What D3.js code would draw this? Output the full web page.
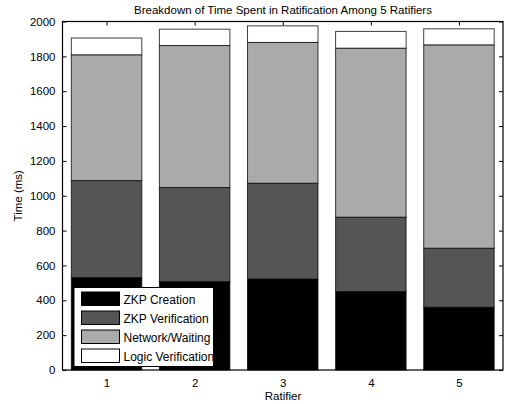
<!DOCTYPE html>
<meta charset="utf-8">
<style>
body { margin: 0; background: #fff; }
text { font-family: "Liberation Sans", Arial, sans-serif; fill: #000; }
</style>
<svg width="505" height="404"></svg>
<script src="https://cdn.jsdelivr.net/npm/d3@7"></script>
<script>

var ratifiers = [1, 2, 3, 4, 5];
var series = ["ZKP Creation", "ZKP Verification", "Network/Waiting", "Logic Verification"];
var zkpCreation = [530, 507, 522, 450, 360];
var zkpVerification = [557, 540, 550, 427, 339];
var networkWaiting = [722, 815, 808, 970, 1167];
var logicVerification = [96, 94, 95, 96, 92];
var yTicks = [0, 200, 400, 600, 800, 1000, 1200, 1400, 1600, 1800, 2000];
var colors = ["#000000", "#555555", "#aaaaaa", "#ffffff"];

var svg = d3.select("svg"),
    margin = {left: 62.5, right: 2, top: 21.5, bottom: 34},
    width = 505 - margin.left - margin.right,
    height = 404 - margin.top - margin.bottom,
    g = svg.append("g").attr("transform", "translate(" + margin.left + "," + margin.top + ")");

var rows = ratifiers.map(function(r, i) {
  return {r: r, "ZKP Creation": zkpCreation[i], "ZKP Verification": zkpVerification[i],
          "Network/Waiting": networkWaiting[i], "Logic Verification": logicVerification[i]};
});
var stacked = d3.stack().keys(series)(rows);

var x = d3.scaleLinear().domain([0.5, 5.5]).range([0, width]);
var y = d3.scaleLinear().domain([0, 2000]).range([height, 0]);
var bw = x(1.4) - x(0.6);

stacked.forEach(function(layer, li) {
  g.selectAll(".s" + li)
    .data(layer)
    .enter().append("rect")
      .attr("x", function(d) { return x(d.data.r) - bw / 2; })
      .attr("y", function(d) { return y(d[1]); })
      .attr("width", bw)
      .attr("height", function(d) { return y(d[0]) - y(d[1]); })
      .attr("fill", colors[li])
      .attr("stroke", "#000")
      .attr("stroke-opacity", 0.75)
      .attr("stroke-width", 1);
});

// axes, ticks inside on all four sides
function style(a) {
  a.select(".domain").remove();
  a.selectAll("line").attr("stroke", "#000");
  a.selectAll("text").style("font-size", "11.5px").style("font-family", "Liberation Sans, Arial, sans-serif");
}
var fmt = d3.format("d");
g.append("g").attr("transform", "translate(0," + height + ")")
  .call(d3.axisBottom(x).tickValues(ratifiers).tickFormat(fmt).tickSizeInner(-4).tickSizeOuter(0).tickPadding(9))
  .call(style);
g.append("g")
  .call(d3.axisTop(x).tickValues(ratifiers).tickSizeInner(-4).tickSizeOuter(0).tickFormat(""))
  .call(style);
g.append("g")
  .call(d3.axisLeft(y).tickValues(yTicks).tickFormat(fmt).tickSizeInner(-4).tickSizeOuter(0).tickPadding(7))
  .call(style);
g.append("g").attr("transform", "translate(" + width + ",0)")
  .call(d3.axisRight(y).tickValues(yTicks).tickSizeInner(-4).tickSizeOuter(0).tickFormat(""))
  .call(style);

g.append("rect")
  .attr("width", width).attr("height", height)
  .attr("fill", "none").attr("stroke", "#000").attr("stroke-width", 1.2);

// legend
var lg = g.append("g").attr("transform", "translate(" + (74 - margin.left) + "," + (287.5 - margin.top) + ")");
lg.append("rect").attr("width", 139.5).attr("height", 79)
  .attr("fill", "#fff").attr("stroke", "#000").attr("stroke-width", 1);
series.forEach(function(s, i) {
  lg.append("rect")
    .attr("x", 7.5).attr("y", 4.5 + i * 19)
    .attr("width", 38).attr("height", 13.5)
    .attr("fill", colors[i]).attr("stroke", "#000").attr("stroke-width", 1);
  lg.append("text")
    .attr("x", 49.5).attr("y", 16 + i * 19)
    .style("font-size", "12px")
    .text(s);
});

// title and labels
svg.append("text").attr("x", 283).attr("y", 14).attr("text-anchor", "middle")
  .style("font-size", "11.5px").text("Breakdown of Time Spent in Ratification Among 5 Ratifiers");
svg.append("text").attr("x", 283).attr("y", 400).attr("text-anchor", "middle")
  .style("font-size", "11.5px").text("Ratifier");
svg.append("text").attr("transform", "translate(22," + (margin.top + height / 2) + ") rotate(-90)")
  .attr("text-anchor", "middle").style("font-size", "11.5px").text("Time (ms)");

</script>
